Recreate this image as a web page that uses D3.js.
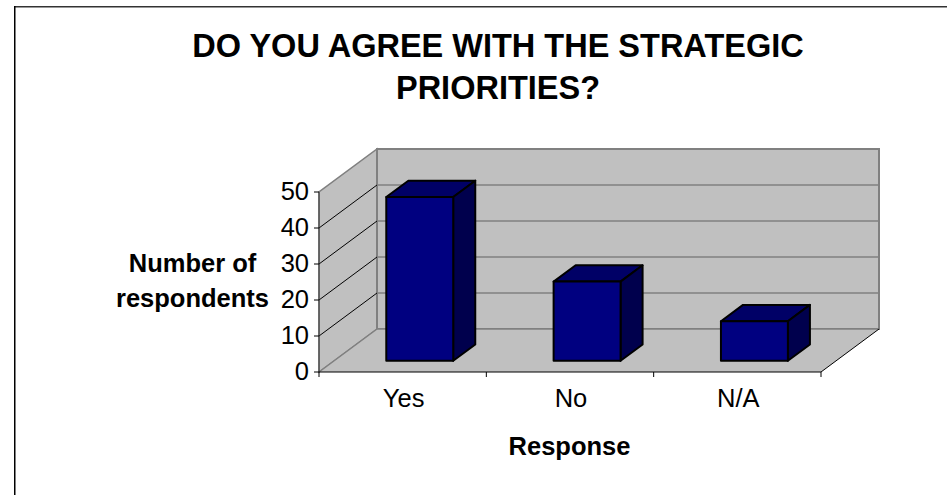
<!DOCTYPE html>
<html lang="en">
<head>
<meta charset="UTF-8">
<title>Strategic priorities</title>
<style>
    html, body { margin: 0; background: #fff; overflow: hidden; }
    text { font-family: "Liberation Sans", Arial, sans-serif; fill: #000; }
    .title { font-size: 32.5px; font-weight: bold; }
    .axis-title { font-size: 25.5px; font-weight: bold; }
    .tick-label { font-size: 25.5px; }
</style>
</head>
<body>
<div id="chart"></div>
<script src="https://d3js.org/d3.v7.min.js"></script>
<script>
const categories = ["Yes", "No", "N/A"];
const values = [45.5, 22, 11];
const yTicks = [0, 10, 20, 30, 40, 50];
const titleLines = ["DO YOU AGREE WITH THE STRATEGIC", "PRIORITIES?"];
const yTitleLines = ["Number of", "respondents"];
const xTitle = "Response";

const width = 947, height = 495;

const svg = d3.select("#chart").append("svg")
    .attr("width", width)
    .attr("height", height)
    .style("display", "block");

// outer frame, only the top and left edges fall inside the picture
svg.append("line")
    .attr("x1", 14).attr("x2", width).attr("y1", 6.75).attr("y2", 6.75)
    .attr("stroke", "#333").attr("stroke-width", 1.5);
svg.append("line")
    .attr("x1", 14.75).attr("x2", 14.75).attr("y1", 6).attr("y2", height)
    .attr("stroke", "#000").attr("stroke-width", 1.5);

// front plane scales
const x = d3.scaleBand().domain(categories).range([321, 823]).paddingInner(0.6).paddingOuter(0.3);
const xEdges = d3.scaleLinear().domain([0, categories.length]).range([319, 821]);
const y = d3.scaleLinear().domain([0, 50]).range([372, 192]);

// oblique depth
const depthX = 58, depthY = -43;
const pt = (px, py, d) => [px + depthX * d, py + depthY * d];
const line = d3.line();
const poly = pts => line(pts) + "Z";

const grey = "#c0c0c0", wallLine = "#808080";

// side wall, back wall, floor
svg.append("path")
    .attr("d", poly([pt(319, y(0), 0), pt(319, y(50), 0), pt(319, y(50), 1), pt(319, y(0), 1)]))
    .attr("fill", grey).attr("stroke", wallLine).attr("stroke-width", 1.5);
svg.append("path")
    .attr("d", poly([pt(319, y(0), 1), pt(319, y(50), 1), pt(821, y(50), 1), pt(821, y(0), 1)]))
    .attr("fill", grey).attr("stroke", wallLine).attr("stroke-width", 2);
svg.append("path")
    .attr("d", poly([pt(319, y(0), 0), pt(821, y(0), 0), pt(821, y(0), 1), pt(319, y(0), 1)]))
    .attr("fill", grey);
svg.append("path")
    .attr("d", line([pt(319, y(0), 0), pt(319, y(0), 1)]))
    .attr("fill", "none").attr("stroke", wallLine).attr("stroke-width", 1.5);
svg.append("path")
    .attr("d", line([pt(319, y(0), 1), pt(821, y(0), 1)]))
    .attr("fill", "none").attr("stroke", wallLine).attr("stroke-width", 1.5);
svg.append("path")
    .attr("d", line([pt(821, y(0), 0), pt(821, y(0), 1)]))
    .attr("fill", "none").attr("stroke", "#000").attr("stroke-width", 1);

// gridlines on side and back walls
const gridTicks = yTicks.filter(t => t > 0 && t < 50);
svg.selectAll("path.side-grid").data(gridTicks).enter().append("path")
    .attr("class", "side-grid")
    .attr("d", t => line([pt(319, y(t), 0), pt(319, y(t), 1)]))
    .attr("fill", "none").attr("stroke", "#000").attr("stroke-width", 1);
svg.selectAll("path.back-grid").data(gridTicks).enter().append("path")
    .attr("class", "back-grid")
    .attr("d", t => line([pt(319, y(t), 1), pt(821, y(t), 1)]))
    .attr("fill", "none").attr("stroke", wallLine).attr("stroke-width", 1.5);

// bars
const barFront = 0.26, barBack = 0.64;
const bars = svg.selectAll("g.bar").data(categories).enter().append("g").attr("class", "bar");
const barColor = "#000080", barTop = "#000066", barSide = "#00004d";
const barStroke = sel => sel.attr("stroke", "#000").attr("stroke-width", 2).attr("stroke-linejoin", "round");

bars.append("path")
    .attr("d", (c, i) => {
        const l = x(c), r = l + x.bandwidth(), t = y(values[i]);
        return poly([pt(l, t, barFront), pt(r, t, barFront), pt(r, t, barBack), pt(l, t, barBack)]);
    })
    .attr("fill", barTop).call(barStroke);
bars.append("path")
    .attr("d", (c, i) => {
        const r = x(c) + x.bandwidth(), t = y(values[i]);
        return poly([pt(r, y(0), barFront), pt(r, t, barFront), pt(r, t, barBack), pt(r, y(0), barBack)]);
    })
    .attr("fill", barSide).call(barStroke);
bars.append("path")
    .attr("d", (c, i) => {
        const l = x(c), r = l + x.bandwidth(), t = y(values[i]);
        return poly([pt(l, y(0), barFront), pt(r, y(0), barFront), pt(r, t, barFront), pt(l, t, barFront)]);
    })
    .attr("fill", barColor).call(barStroke);

// y axis
svg.append("path")
    .attr("d", line([[319, y(50)], [319, y(0)]]))
    .attr("stroke", "#333").attr("stroke-width", 1);
svg.selectAll("line.y-tick").data(yTicks).enter().append("line")
    .attr("class", "y-tick")
    .attr("x1", 314).attr("x2", 319)
    .attr("y1", d => y(d)).attr("y2", d => y(d))
    .attr("stroke", "#000");
svg.selectAll("text.y-label").data(yTicks).enter().append("text")
    .attr("class", "tick-label y-label")
    .attr("x", 309).attr("y", d => y(d) + 8)
    .attr("text-anchor", "end")
    .text(d => d);

// x axis
svg.append("line")
    .attr("x1", 319).attr("x2", 821).attr("y1", y(0)).attr("y2", y(0))
    .attr("stroke", "#000");
svg.selectAll("line.x-tick").data(d3.range(categories.length + 1)).enter().append("line")
    .attr("class", "x-tick")
    .attr("x1", d => xEdges(d)).attr("x2", d => xEdges(d))
    .attr("y1", y(0)).attr("y2", y(0) + 5)
    .attr("stroke", "#000");
svg.selectAll("text.x-label").data(categories).enter().append("text")
    .attr("class", "tick-label x-label")
    .attr("x", (d, i) => xEdges(i + 0.5) + 1)
    .attr("y", 407)
    .attr("text-anchor", "middle")
    .text(d => d);

// titles
svg.selectAll("text.title").data(titleLines).enter().append("text")
    .attr("class", "title")
    .attr("x", 498)
    .attr("y", (d, i) => 57 + i * 42)
    .attr("text-anchor", "middle")
    .text(d => d);
svg.selectAll("text.y-title").data(yTitleLines).enter().append("text")
    .attr("class", "axis-title y-title")
    .attr("x", 192.5)
    .attr("y", (d, i) => 272 + i * 35)
    .attr("text-anchor", "middle")
    .text(d => d);
svg.append("text")
    .attr("class", "axis-title")
    .attr("x", 569.5).attr("y", 454.5)
    .attr("text-anchor", "middle")
    .text(xTitle);
</script>
</body>
</html>
